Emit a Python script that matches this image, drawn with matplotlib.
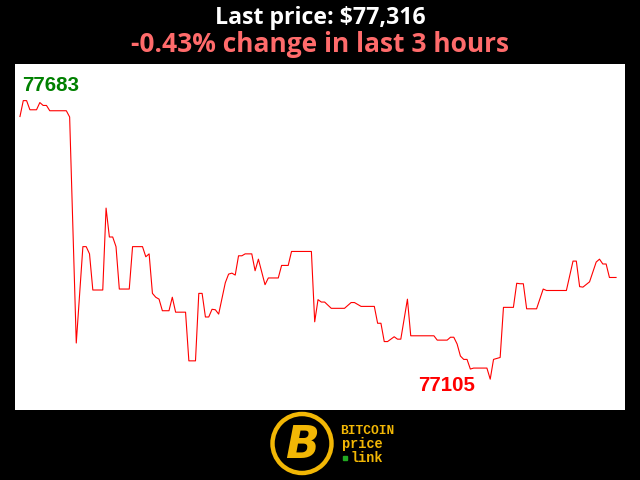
import matplotlib
matplotlib.use("Agg")
import matplotlib.pyplot as plt
from matplotlib.patches import Circle

# ---- data (minutes since start, BTC price in USD) ----
minutes = [0, 1, 2, 3, 5, 6, 7, 8, 9, 14, 15, 17, 19, 20, 21, 22, 25, 26, 27, 28,
           29, 30, 33, 34, 37, 38, 39, 40, 41, 42, 43, 45, 46, 47, 50, 51, 53, 54,
           55, 56, 57, 58, 59, 60, 62, 63, 64, 65, 66, 67, 68, 70, 71, 72, 74, 75,
           78, 79, 81, 82, 88, 89, 90, 91, 92, 94, 98, 100, 101, 103, 107, 108, 109,
           110, 111, 113, 114, 115, 117, 118, 125, 126, 129, 130, 131, 132, 133, 134,
           135, 136, 137, 141, 142, 143, 144, 145, 146, 149, 150, 151, 152, 153, 156,
           158, 159, 165, 167, 168, 169, 170, 172, 174, 175, 176, 177, 178, 180]
prices = [77650, 77683, 77683, 77664, 77664, 77679, 77673, 77673, 77662, 77662,
          77649, 77180, 77380, 77380, 77365, 77290, 77290, 77460, 77400, 77400,
          77380, 77292, 77292, 77380, 77380, 77359, 77365, 77283, 77275, 77271,
          77247, 77247, 77275, 77244, 77244, 77143, 77143, 77283, 77283, 77234,
          77234, 77250, 77249, 77240, 77305, 77323, 77325, 77321, 77361, 77361,
          77365, 77365, 77330, 77354, 77301, 77315, 77315, 77341, 77341, 77370,
          77370, 77224, 77270, 77265, 77265, 77252, 77252, 77264, 77264, 77256,
          77256, 77221, 77221, 77183, 77183, 77193, 77188, 77188, 77271, 77195,
          77195, 77186, 77186, 77192, 77192, 77178, 77153, 77146, 77146, 77126,
          77128, 77128, 77105, 77146, 77148, 77150, 77254, 77254, 77304, 77303,
          77303, 77251, 77251, 77292, 77289, 77289, 77350, 77350, 77297, 77296,
          77307, 77348, 77354, 77344, 77344, 77316, 77316]

title_line1 = "Last price: $77,316"
title_line2 = "-0.43% change in last 3 hours"
logo_lines = ["BITCOIN", "price", "link"]

W, H = 640, 480
fig = plt.figure(figsize=(W / 100, H / 100), dpi=100, facecolor="black")

# plot area
ax = fig.add_axes([15 / W, 1 - 410 / H, 610 / W, 346 / H])
ax.set_facecolor("white")
ax.plot(minutes, prices, color="#ff0000", linewidth=0.8)
ax.set_xlim(-1.5, 182.7)
ax.set_ylim(77041, 77759)
ax.set_xticks([])
ax.set_yticks([])
for s in ax.spines.values():
    s.set_visible(False)

# max / min labels
pmax, pmin = max(prices), min(prices)
imax, imin = prices.index(pmax), prices.index(pmin)
ax.annotate(str(pmax), xy=(minutes[imax], pmax), xytext=(-1, 10),
            textcoords="offset pixels", ha="left", va="baseline",
            color="#008000", fontsize=14.8, fontweight="bold",
            family="Liberation Sans")
ax.annotate(str(pmin), xy=(minutes[imin], pmin), xytext=(-15, -12),
            textcoords="offset pixels", ha="right", va="baseline",
            color="#ff0000", fontsize=14.8, fontweight="bold",
            family="Liberation Sans")

# titles
fig.text(0.5, 1 - 24.3 / H, title_line1, ha="center", va="baseline",
         color="white", fontsize=16.7, fontweight="bold", family="Open Sans")
fig.text(0.5, 1 - 51.7 / H, title_line2, ha="center", va="baseline",
         color="#ff6b6b", fontsize=19, fontweight="bold", family="Open Sans")

# logo
lax = fig.add_axes([0, 0, 1, 1], facecolor="none")
lax.set_xlim(0, W)
lax.set_ylim(H, 0)
lax.axis("off")
gold = "#f2b705"
lax.add_patch(Circle((302, 443.5), 29.5, fill=False, edgecolor=gold, linewidth=3.2))
lax.text(302, 445, "B", ha="center", va="center", color=gold, fontsize=32,
         fontweight="bold", fontstyle="italic", family="DejaVu Sans")
mono = ["Liberation Mono", "DejaVu Sans Mono"]
lax.text(340, 434.5, logo_lines[0], ha="left", va="baseline", color=gold,
         fontsize=9.3, fontweight="bold", family=mono)
lax.text(342, 448, logo_lines[1], ha="left", va="baseline", color=gold,
         fontsize=9.8, fontweight="bold", family=mono)
lax.text(351, 461.5, logo_lines[2], ha="left", va="baseline", color=gold,
         fontsize=9.8, fontweight="bold", family=mono)
lax.plot([345], [457.5], marker="s", markersize=2.5, color="#22aa22")

fig.savefig("out.png", dpi=100, facecolor="black")
